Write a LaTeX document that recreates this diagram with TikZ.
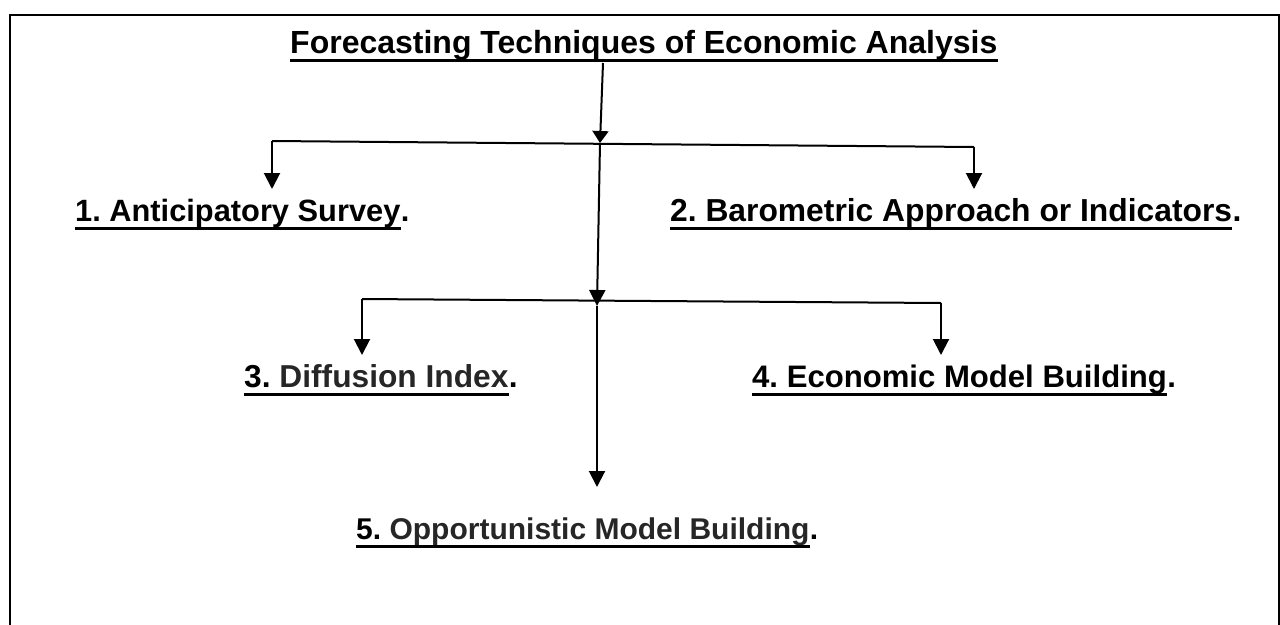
\documentclass[tikz,border=0pt]{standalone}
\usepackage{fontspec}
\setmainfont{Liberation Sans}
\usetikzlibrary{arrows.meta}
\definecolor{softink}{HTML}{262626}
\begin{document}
\frenchspacing
\begin{tikzpicture}[x=1pt,y=-1pt,
  lbl/.style={inner sep=0pt, anchor=base west, font=\bfseries\fontsize{#1}{36}\selectfont},
  lbl/.default=31.3,
  ttl/.style={inner sep=0pt, anchor=base west, font=\bfseries\fontsize{32}{38}\selectfont},
  uline/.style={line width=3pt},
  conn/.style={line width=2pt},
  arr/.style={conn, -{Triangle[width=16pt,length=16pt]}},
  arrs/.style={conn, -{Triangle[width=16pt,length=12pt]}},
]
\useasboundingbox (0,0) rectangle (1280,624);
\clip (0,0) rectangle (1280,624);

% open frame
\draw[line width=2pt] (10,650) -- (10,15) -- (1279,15) -- (1279,650);

% title
\node[ttl] (title) at (290,53) {Forecasting Techniques of Economic Analysis};
\draw[uline] ([yshift=-7pt]title.base west) -- ([yshift=-7pt]title.base east);

% labels, each underlined up to (not including) its full stop
\node[lbl=30.8] (l1) at (75,221) {1. Anticipatory Survey};
\node[lbl=30.8] (l1p) at (l1.base east) {.};
\node[lbl=31.8] (l2) at (670,221) {2. Barometric Approach or Indicators};
\node[lbl=31.8] (l2p) at (l2.base east) {.};
\node[lbl=31.7] (l3) at (244,387) {3. \textcolor{softink}{Diffusion Index}};
\node[lbl=31.7] (l3p) at (l3.base east) {.};
\node[lbl=31.1] (l4) at (752,387) {4. Economic Model Building};
\node[lbl=31.1] (l4p) at (l4.base east) {.};
\node[lbl=30] (l5) at (356,539) {5. \textcolor{softink}{Opportunistic Model Building}};
\node[lbl=30] (l5p) at (l5.base east) {.};
\foreach \n in {l1,l2,l3,l4,l5}
  \draw[uline] ([yshift=-7pt]\n.base west) -- ([yshift=-7pt]\n.base east);

% junctions and branch points
\coordinate (t0) at (603,63);
\coordinate (j1) at (600,143);
\coordinate (b1L) at (272,141);
\coordinate (b1R) at (974,147);
\coordinate (a1) at (272,189);
\coordinate (a2) at (974,189);
\coordinate (j2) at (597,306);
\coordinate (b2L) at (362,299);
\coordinate (b2R) at (941,303);
\coordinate (a3) at (362,355);
\coordinate (a4) at (941,355);
\coordinate (a5) at (597,487);

% connectors
\draw[arrs] (t0) -- (j1);
\draw[conn] (b1L) -- (b1R);
\draw[arr] (b1L) -- (a1);
\draw[arr] (b1R) -- (a2);
\draw[arr] (j1) -- (j2);
\draw[conn] (b2L) -- (b2R);
\draw[arr] (b2L) -- (a3);
\draw[arr] (b2R) -- (a4);
\draw[arr] (j2) -- (a5);
\end{tikzpicture}
\end{document}
